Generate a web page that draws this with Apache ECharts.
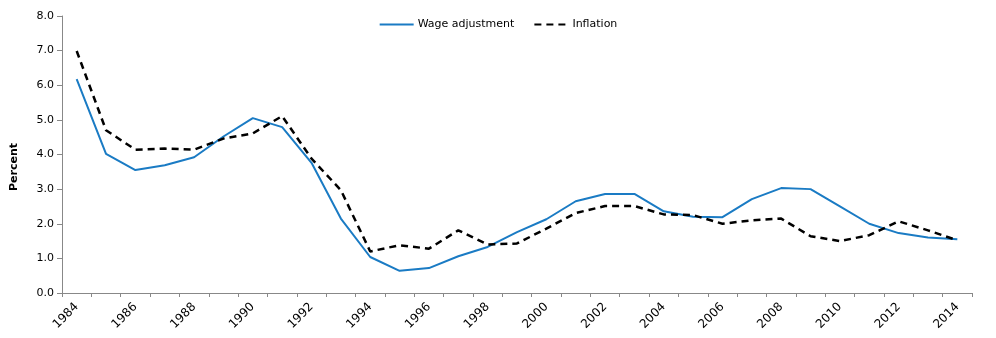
<!DOCTYPE html>
<html>
<head>
<meta charset="utf-8">
<script src="https://cdn.jsdelivr.net/npm/echarts@6/dist/echarts.min.js"></script>
<style>html,body{margin:0;padding:0;background:#fff}#c{width:996px;height:338px}</style>
</head>
<body>
<div id="c"></div>
<script>
const years = ['1984','1985','1986','1987','1988','1989','1990','1991','1992','1993','1994','1995','1996','1997','1998','1999','2000','2001','2002','2003','2004','2005','2006','2007','2008','2009','2010','2011','2012','2013','2014'];
const wageAdjustment = [6.18,4.02,3.55,3.69,3.92,4.52,5.05,4.79,3.76,2.15,1.04,0.64,0.72,1.06,1.33,1.76,2.13,2.65,2.86,2.86,2.36,2.2,2.19,2.71,3.03,3.0,2.5,2.0,1.73,1.6,1.55];
const inflation = [6.99,4.7,4.14,4.17,4.14,4.46,4.61,5.11,3.88,2.97,1.2,1.38,1.28,1.81,1.4,1.43,1.86,2.31,2.51,2.51,2.27,2.25,2.0,2.1,2.15,1.64,1.5,1.67,2.07,1.81,1.52];
const yTicks = [0,1,2,3,4,5,6,7,8];

const chart = echarts.init(document.getElementById('c'));
const font = 'DejaVu Sans';
chart.setOption({
  animation: false,
  backgroundColor: '#fff',
  grid: {left: 62, right: 24, top: 16, bottom: 45, containLabel: false},
  legend: {
    top: 14, left: 'center', itemGap: 19, itemWidth: 34, itemHeight: 10,
    itemStyle: {opacity: 0},
    textStyle: {fontFamily: font, fontSize: 11, color: '#000', padding: [0, 0, 0, -1]},
    data: ['Wage adjustment', 'Inflation']
  },
  graphic: [{
    type: 'text', rotation: Math.PI / 2,
    style: {text: 'Percent', font: 'bold 11px "DejaVu Sans"', fill: '#000', textAlign: 'center', textVerticalAlign: 'middle'},
    x: 14, y: 167
  }],
  xAxis: {
    type: 'category', data: years, boundaryGap: true,
    axisLine: {lineStyle: {color: '#888', width: 1}},
    axisTick: {show: true, interval: 0, length: 4, lineStyle: {color: '#888'}},
    axisLabel: {interval: 1, rotate: 45, fontFamily: font, fontSize: 12, color: '#000', margin: 12}
  },
  yAxis: {
    type: 'value', min: yTicks[0], max: yTicks[yTicks.length - 1], interval: 1,
    axisLine: {show: true, lineStyle: {color: '#888', width: 1}},
    axisTick: {show: true, length: 5, lineStyle: {color: '#888'}},
    splitLine: {show: false},
    axisLabel: {fontFamily: font, fontSize: 11, color: '#000', margin: 8, formatter: v => v.toFixed(1)}
  },
  series: [{
    name: 'Wage adjustment', type: 'line', data: wageAdjustment, symbol: 'none',
    lineStyle: {color: '#1a7bc4', width: 2},
    itemStyle: {color: '#1a7bc4'}
  }, {
    name: 'Inflation', type: 'line', data: inflation, symbol: 'none',
    lineStyle: {color: '#000', width: 2.5, type: [7, 5]},
    itemStyle: {color: '#000'}
  }]
});
</script>
</body>
</html>
